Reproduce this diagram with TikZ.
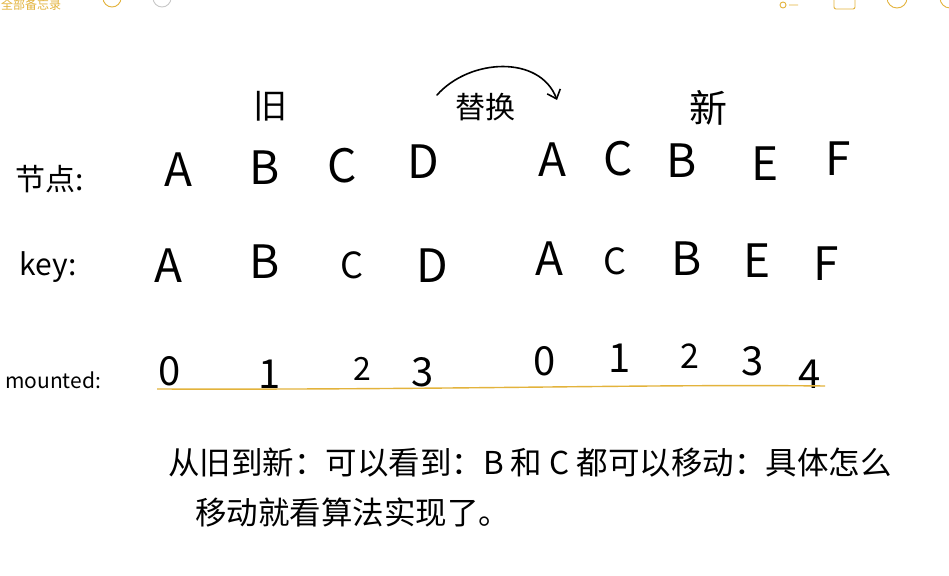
\documentclass[tikz,border=0pt]{standalone}
\usepackage{fontspec}
\setmainfont{Noto Sans CJK SC}
\usetikzlibrary{arrows.meta, positioning}
\definecolor{notesgold}{HTML}{E3B33C}
\definecolor{notesgray}{HTML}{C8C8C8}

\begin{document}
\begin{tikzpicture}[
    x=1pt, y=-1pt,
    every node/.style={inner sep=0pt, anchor=base},
    head/.style={font=\fontsize{34}{34}\selectfont},
    rowlabel/.style={font=\fontsize{30}{30}\selectfont},
    letter/.style={font=\fontsize{46}{46}\selectfont},
    digit/.style={font=\fontsize{40}{40}\selectfont},
    note/.style={font=\fontsize{31.5}{31.5}\selectfont, anchor=base west},
    arrow/.style={thick, line width=1.6pt, -{Straight Barb[length=8pt, width=14pt]}, line cap=round},
    icon/.style={draw=notesgold, line width=0.9pt}
]
\useasboundingbox (0,0) rectangle (949,575);
\fill[white] (0,0) rectangle (949,575);

% top bar of the notes app
\node (topbar) [anchor=base west, text=notesgold, font=\fontsize{12}{12}\selectfont] at (1,10) {全部备忘录};
\draw[icon] (112,-2) circle (9);
\draw[icon, draw=notesgray] (162,-2) circle (9);
\draw[icon] (783,5) circle (3) (789,5) -- (798,5);
\draw[icon, rounded corners=2pt] (834,9) rectangle (855,-10);
\draw[icon] (897,-2) circle (10);
\draw[icon] (950,-2) circle (10);

% headings
\node (old) [head] at (270,118) {旧};
\node (new) [head, font=\fontsize{38}{38}\selectfont] at (708,122) {新};
\node (swap) [head, font=\fontsize{30}{30}\selectfont] at (485,118) {替换};
\coordinate (swapstart) at (437,95);
\coordinate (swapend) at (557,100);
\draw [arrow] (swapstart) .. controls (470,58) and (540,55) .. (swapend);

% row labels
\node (lbnode) [rowlabel] at (50,190) {节点:};
\node (lbkey) [rowlabel] at (48,275) {key:};
\node (lbmount) [rowlabel, font=\fontsize{21}{21}\selectfont] at (53,388) {mounted:};

% row 1: nodes
\node (oldA) [letter] at (178,186) {A};
\node (oldB) [letter] at (265,184) {B};
\node (oldC) [letter] at (342,182) {C};
\node (oldD) [letter] at (423,178) {D};
\node (newA) [letter] at (552,176) {A};
\node (newC) [letter] at (618,175) {C};
\node (newB) [letter] at (682,177) {B};
\node (newE) [letter] at (765,180) {E};
\node (newF) [letter] at (838,175) {F};

% row 2: keys
\node (keyoldA) [letter] at (168,282) {A};
\node (keyoldB) [letter] at (265,278) {B};
\node (keyoldC) [letter, font=\fontsize{36}{36}\selectfont] at (352,278) {C};
\node (keyoldD) [letter] at (432,282) {D};
\node (keynewA) [letter] at (549,275) {A};
\node (keynewC) [letter, font=\fontsize{36}{36}\selectfont] at (615,274) {C};
\node (keynewB) [letter] at (687,275) {B};
\node (keynewE) [letter] at (757,277) {E};
\node (keynewF) [letter] at (826,280) {F};

% row 3: mounted index
\node (mtold0) [digit] at (170,385) {0};
\node (mtold1) [digit] at (270,388) {1};
\node (mtold2) [digit, font=\fontsize{32}{32}\selectfont] at (362,380) {2};
\node (mtold3) [digit] at (423,386) {3};
\node (mtnew0) [digit] at (545,375) {0};
\node (mtnew1) [digit] at (620,372) {1};
\node (mtnew2) [digit, font=\fontsize{34}{34}\selectfont] at (690,368) {2};
\node (mtnew3) [digit] at (753,375) {3};
\node (mtnew4) [digit] at (810,388) {4};
\draw[notesgold, line width=1.4pt] (157,389) .. controls (450,390) and (650,384) .. (825,386);

% remark
\node (remark1) [note] at (168,474) {从旧到新：可以看到：B 和 C 都可以移动：具体怎么};
\node (remark2) [note] at (195,524) {移动就看算法实现了。};

\end{tikzpicture}
\end{document}
